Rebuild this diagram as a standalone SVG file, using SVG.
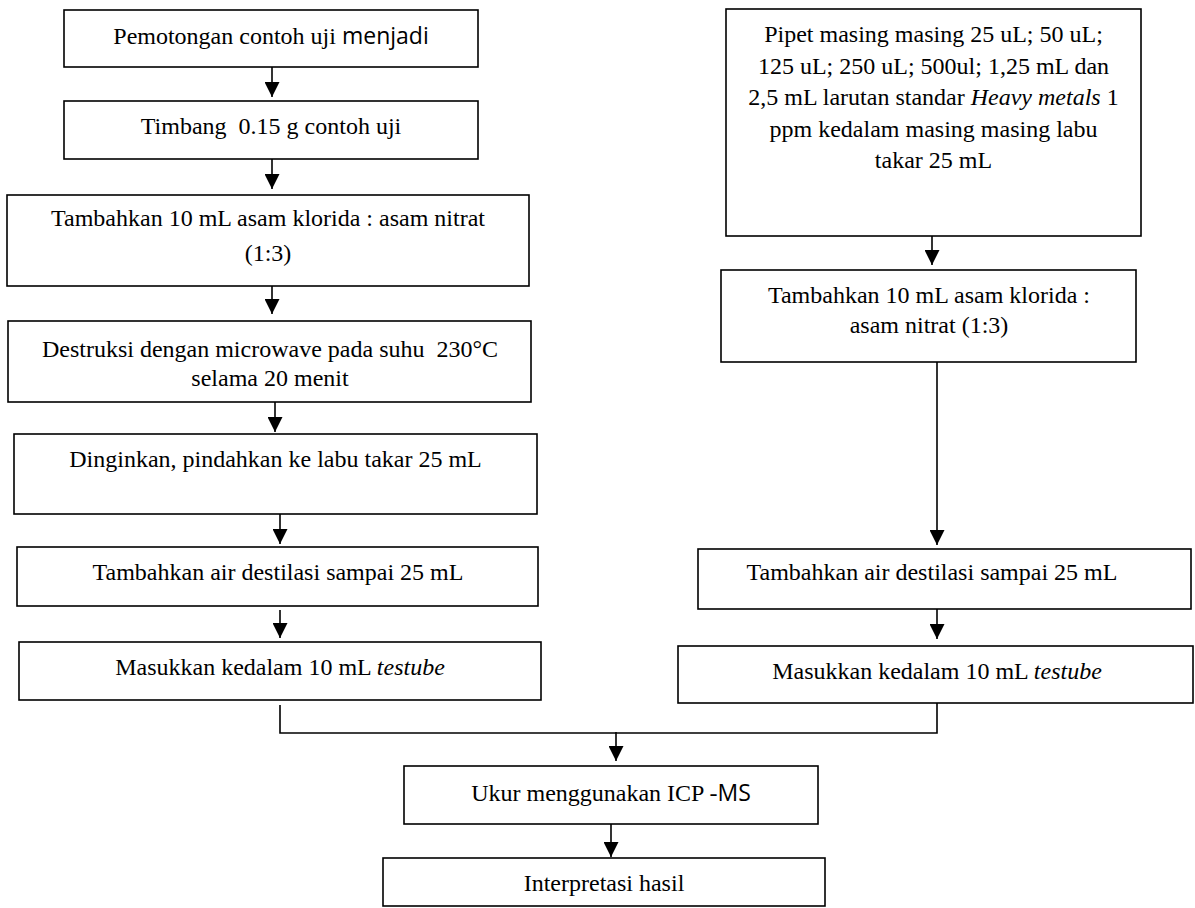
<svg xmlns="http://www.w3.org/2000/svg" width="1195" height="908" viewBox="0 0 1195 908">
<style>
.box{fill:#fff;stroke:#000;stroke-width:1.6}
.t{font-family:"Liberation Serif","Times New Roman",serif;font-size:24px;fill:#000;text-anchor:middle}
.s{font-family:"Open Sans","Noto Sans",sans-serif;font-size:23px}
.i{font-style:italic}
.c{fill:none;stroke:#000;stroke-width:1.6}
</style>
<defs>
<marker id="ah" markerUnits="userSpaceOnUse" markerWidth="15" markerHeight="15" refX="15" refY="7.5" orient="auto">
<path d="M0,0 L15,7.5 L0,15 z" fill="#000"/>
</marker>
</defs>
<rect width="1195" height="908" fill="#fff"/>
<g id="n1"><rect class="box" x="64" y="10" width="414" height="57"/><text class="t" x="271" y="44">Pemotongan contoh uji <tspan class="s">menjadi</tspan></text></g>
<g id="n2"><rect class="box" x="64" y="101" width="414" height="58"/><text class="t" x="271" y="134" xml:space="preserve">Timbang  0.15 g contoh uji</text></g>
<g id="n3"><rect class="box" x="7" y="195" width="522" height="91"/><text class="t" x="268" y="226">Tambahkan 10 mL asam klorida : asam nitrat</text><text class="t" x="268" y="261">(1:3)</text></g>
<g id="n4"><rect class="box" x="8" y="321" width="523" height="81"/><text class="t" x="270" y="357" xml:space="preserve">Destruksi dengan microwave pada suhu  230°C</text><text class="t" x="270" y="386">selama 20 menit</text></g>
<g id="n5"><rect class="box" x="14" y="434" width="523" height="80"/><text class="t" x="275.5" y="467">Dinginkan, pindahkan ke labu takar 25 mL</text></g>
<g id="n6"><rect class="box" x="17" y="547" width="521" height="59"/><text class="t" x="278" y="580">Tambahkan air destilasi sampai 25 mL</text></g>
<g id="n7"><rect class="box" x="19" y="642" width="522" height="58"/><text class="t" x="280" y="675">Masukkan kedalam 10 mL <tspan class="i">testube</tspan></text></g>
<g id="r1"><rect class="box" x="726" y="9" width="415" height="227"/>
<text class="t" x="933.5" y="42">Pipet masing masing 25 uL; 50 uL;</text>
<text class="t" x="933.5" y="73.5">125 uL; 250 uL; 500ul; 1,25 mL dan</text>
<text class="t" x="933.5" y="105">2,5 mL larutan standar <tspan class="i">Heavy metals</tspan> 1</text>
<text class="t" x="933.5" y="136.5">ppm kedalam masing masing labu</text>
<text class="t" x="933.5" y="168">takar 25 mL</text></g>
<g id="r2"><rect class="box" x="721" y="270" width="415" height="92"/><text class="t" x="929" y="303">Tambahkan 10 mL asam klorida :</text><text class="t" x="929" y="333">asam nitrat (1:3)</text></g>
<g id="r3"><rect class="box" x="698" y="549" width="493" height="60"/><text class="t" x="932" y="580">Tambahkan air destilasi sampai 25 mL</text></g>
<g id="r4"><rect class="box" x="678" y="646" width="515" height="57"/><text class="t" x="937" y="679">Masukkan kedalam 10 mL <tspan class="i">testube</tspan></text></g>
<g id="m1"><rect class="box" x="404" y="766" width="414" height="58"/><text class="t" x="611" y="801">Ukur menggunakan ICP -<tspan class="s">MS</tspan></text></g>
<g id="m2"><rect class="box" x="383" y="858" width="442" height="48"/><text class="t" x="604" y="891">Interpretasi hasil</text></g>
<g id="connectors">
<line class="c" x1="272" y1="67" x2="272" y2="97" marker-end="url(#ah)"/>
<line class="c" x1="272" y1="159" x2="272" y2="189" marker-end="url(#ah)"/>
<line class="c" x1="272" y1="286" x2="272" y2="314" marker-end="url(#ah)"/>
<line class="c" x1="275" y1="402" x2="275" y2="432" marker-end="url(#ah)"/>
<line class="c" x1="280" y1="514" x2="280" y2="544" marker-end="url(#ah)"/>
<line class="c" x1="280" y1="610" x2="280" y2="638" marker-end="url(#ah)"/>
<polyline class="c" points="280,705 280,733 937,733 937,703"/>
<line class="c" x1="616" y1="732" x2="616" y2="761" marker-end="url(#ah)"/>
<line class="c" x1="611" y1="824" x2="611" y2="857" marker-end="url(#ah)"/>
<line class="c" x1="932" y1="236" x2="932" y2="265" marker-end="url(#ah)"/>
<line class="c" x1="937" y1="362" x2="937" y2="545" marker-end="url(#ah)"/>
<line class="c" x1="937" y1="609" x2="937" y2="639" marker-end="url(#ah)"/>
</g>
</svg>
